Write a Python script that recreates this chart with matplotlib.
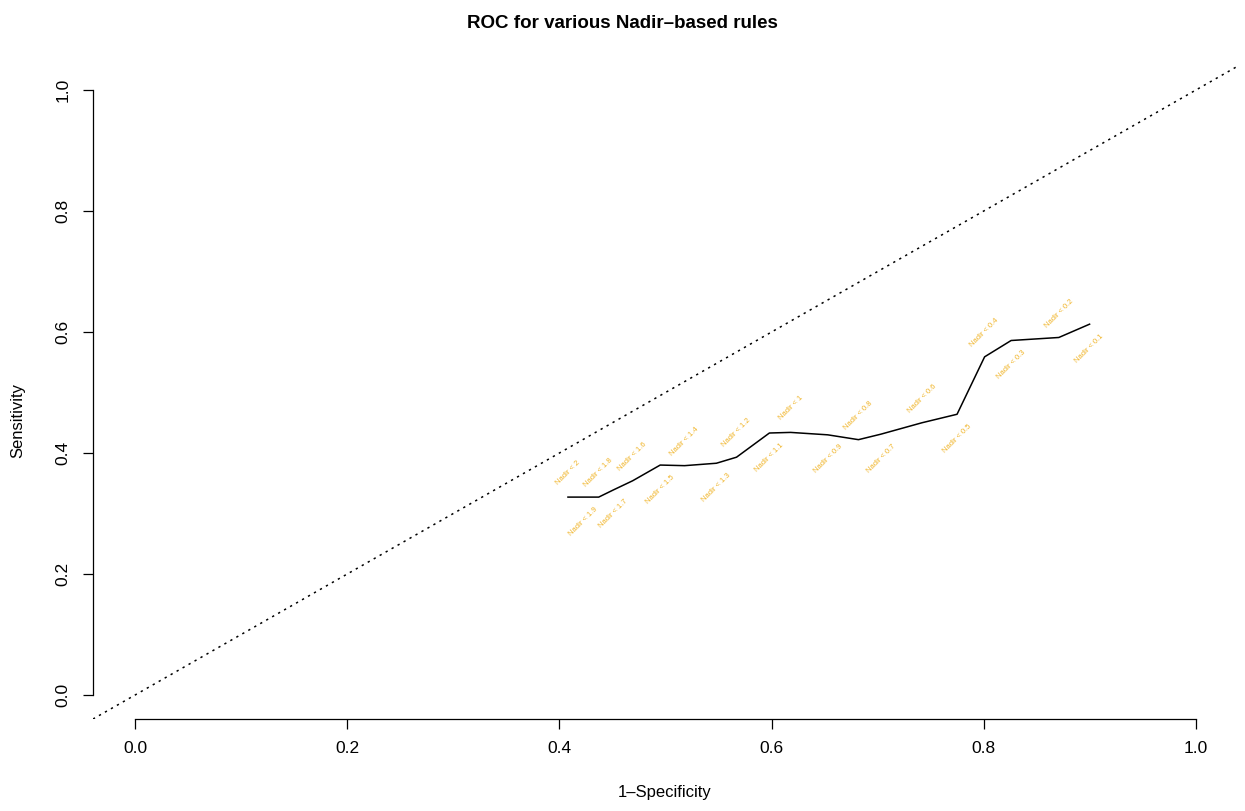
import numpy as np
import matplotlib.pyplot as plt

plt.rcParams['font.family'] = ['Liberation Sans', 'DejaVu Sans']

# thresholds and ROC points
cutoffs = ['2', '1.9', '1.8', '1.7', '1.6', '1.5', '1.4', '1.3', '1.2', '1.1',
           '1', '0.9', '0.8', '0.7', '0.6', '0.5', '0.4', '0.3', '0.2', '0.1']
fpr = [0.408, 0.422, 0.437, 0.451, 0.469, 0.495, 0.518, 0.548, 0.567, 0.598,
       0.618, 0.653, 0.682, 0.703, 0.742, 0.775, 0.801, 0.826, 0.871, 0.900]
tpr = [0.327, 0.327, 0.327, 0.339, 0.354, 0.380, 0.379, 0.383, 0.393, 0.433,
       0.434, 0.430, 0.422, 0.431, 0.450, 0.464, 0.559, 0.586, 0.591, 0.613]

fig = plt.figure(figsize=(12.45, 8.11), dpi=100)
ax = fig.add_axes([93/1245, 1-719/811, (1238-93)/1245, (719-66)/811])

ax.plot(fpr, tpr, color='black', lw=1.1)
ax.axline((0, 0), slope=1, color='black', lw=1.1, linestyle=(0, (1.5, 3)))

# labels alternate above / below the curve, rotated like srt=45 in R
for i, (x, y, c) in enumerate(zip(fpr, tpr, cutoffs)):
    dy = 0.04 if i % 2 == 0 else -0.04
    ax.text(x, y + dy, 'Nadir < ' + c, rotation=45, ha='center', va='center',
            rotation_mode='anchor', fontsize=5.5, color='#F0B428')

ax.set_xlim(-0.04, 1.04)
ax.set_ylim(-0.04, 1.04)
ticks = [0.0, 0.2, 0.4, 0.6, 0.8, 1.0]
ax.set_xticks(ticks)
ax.set_yticks(ticks)
ax.set_xticklabels(['%.1f' % t for t in ticks], fontsize=12.5)
ax.set_yticklabels(['%.1f' % t for t in ticks], fontsize=12.5, rotation=90, va='center')
ax.tick_params(length=7, width=0.9, pad=9)
for s in ['top', 'right']:
    ax.spines[s].set_visible(False)
ax.spines['bottom'].set_bounds(0, 1)
ax.spines['left'].set_bounds(0, 1)
ax.spines['bottom'].set_linewidth(0.9)
ax.spines['left'].set_linewidth(0.9)

fig.text(0.5, 1-24/811, 'ROC for various Nadir\u2013based rules', ha='center', va='center',
         fontsize=13.5, fontweight='bold')
fig.text(665/1245, 1-793/811, '1\u2013Specificity', ha='center', va='center', fontsize=12)
fig.text(18/1245, 1-420/811, 'Sensitivity', ha='center', va='center', fontsize=12, rotation=90)

fig.savefig('out.png', dpi=100)
